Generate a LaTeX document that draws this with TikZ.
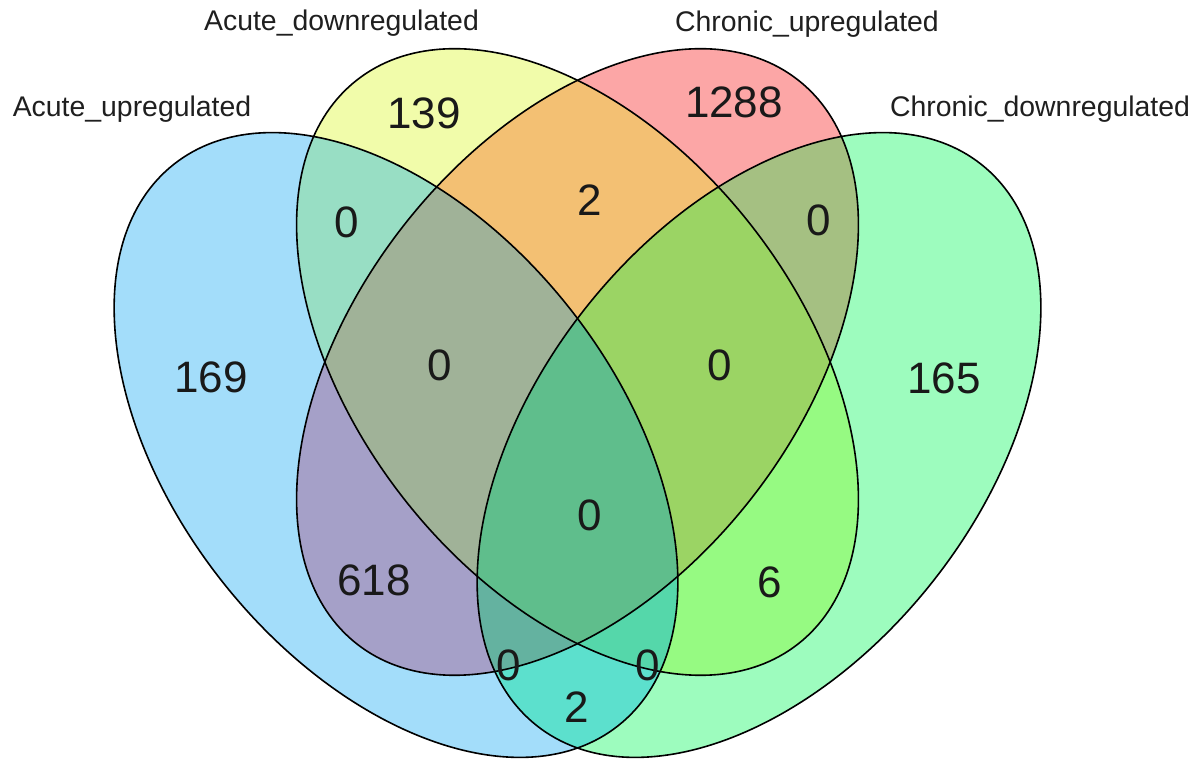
\documentclass[tikz,border=0pt]{standalone}
\usepackage{fontspec}
\setmainfont{Liberation Sans}
\definecolor{cA}{HTML}{A3DDFA}
\definecolor{cB}{HTML}{F1FCAA}
\definecolor{cC}{HTML}{FCA6A6}
\definecolor{cD}{HTML}{9DFCBE}
\definecolor{cAB}{HTML}{98DEC4}
\definecolor{cAC}{HTML}{A5A0C8}
\definecolor{cAD}{HTML}{5CE0CD}
\definecolor{cBC}{HTML}{F3C073}
\definecolor{cBD}{HTML}{96FA82}
\definecolor{cCD}{HTML}{A5C082}
\definecolor{cABC}{HTML}{A0B298}
\definecolor{cABD}{HTML}{55D7AA}
\definecolor{cACD}{HTML}{64B2A0}
\definecolor{cBCD}{HTML}{9BD464}
\definecolor{cABCD}{HTML}{5FBE8C}
\newcommand\clipA{\clip[rotate around={-51.6:(396,320)}] (396,320) ellipse [x radius=358,y radius=221];}
\newcommand\clipB{\clip[rotate around={-52:(577.5,403)}] (577.5,403) ellipse [x radius=358,y radius=221];}
\newcommand\clipC{\clip[rotate around={52:(577.5,403)}] (577.5,403) ellipse [x radius=358,y radius=221];}
\newcommand\clipD{\clip[rotate around={51.6:(759,320)}] (759,320) ellipse [x radius=358,y radius=221];}
\newcommand\paint[1]{\fill[#1] (0,0) rectangle (1199,765);}
\tikzset{
  outline/.style={draw=black, line width=0.8pt},
  setlabel/.style={anchor=base, inner sep=0pt, text=black!88, font=\fontsize{14.2}{17}\selectfont},
  count/.style={anchor=center, inner sep=0pt, text=black!90, font=\fontsize{22}{26}\selectfont}
}
\begin{document}
\begin{tikzpicture}[x=0.5pt,y=0.5pt]
\useasboundingbox (0,0) rectangle (1199,765);
\fill[white] (0,0) rectangle (1199,765);
% single sets
\begin{scope}\clipA\paint{cA}\end{scope}
\begin{scope}\clipB\paint{cB}\end{scope}
\begin{scope}\clipC\paint{cC}\end{scope}
\begin{scope}\clipD\paint{cD}\end{scope}
% pairs
\begin{scope}\clipA\clipB\paint{cAB}\end{scope}
\begin{scope}\clipA\clipC\paint{cAC}\end{scope}
\begin{scope}\clipA\clipD\paint{cAD}\end{scope}
\begin{scope}\clipB\clipC\paint{cBC}\end{scope}
\begin{scope}\clipB\clipD\paint{cBD}\end{scope}
\begin{scope}\clipC\clipD\paint{cCD}\end{scope}
% triples
\begin{scope}\clipA\clipB\clipC\paint{cABC}\end{scope}
\begin{scope}\clipA\clipB\clipD\paint{cABD}\end{scope}
\begin{scope}\clipA\clipC\clipD\paint{cACD}\end{scope}
\begin{scope}\clipB\clipC\clipD\paint{cBCD}\end{scope}
% all four
\begin{scope}\clipA\clipB\clipC\clipD\paint{cABCD}\end{scope}
% outlines
\draw[outline, rotate around={-51.6:(396,320)}] (396,320) ellipse [x radius=358,y radius=221];
\draw[outline, rotate around={-52:(577.5,403)}] (577.5,403) ellipse [x radius=358,y radius=221];
\draw[outline, rotate around={52:(577.5,403)}] (577.5,403) ellipse [x radius=358,y radius=221];
\draw[outline, rotate around={51.6:(759,320)}] (759,320) ellipse [x radius=358,y radius=221];
% set labels
\node[setlabel] (lA) at (132,648) {Acute\_upregulated};
\node[setlabel] (lB) at (341.5,734) {Acute\_downregulated};
\node[setlabel] (lC) at (807,733) {Chronic\_upregulated};
\node[setlabel] (lD) at (1040,648) {Chronic\_downregulated};
% counts
\node[count] (nA) at (211,388) {169};
\node[count] (nB) at (424,652) {139};
\node[count] (nC) at (734,663) {1288};
\node[count] (nD) at (944,387) {165};
\node[count] (nAB) at (347,543) {0};
\node[count] (nBC) at (590,565) {2};
\node[count] (nCD) at (819,545) {0};
\node[count] (nABC) at (440,400) {0};
\node[count] (nBCD) at (720,400) {0};
\node[count] (nABCD) at (590,250) {0};
\node[count] (nAC) at (374,185) {618};
\node[count] (nBD) at (770,183) {6};
\node[count] (nACD) at (509,100) {0};
\node[count] (nABD) at (648,100) {0};
\node[count] (nAD) at (577,58) {2};
\end{tikzpicture}
\end{document}
